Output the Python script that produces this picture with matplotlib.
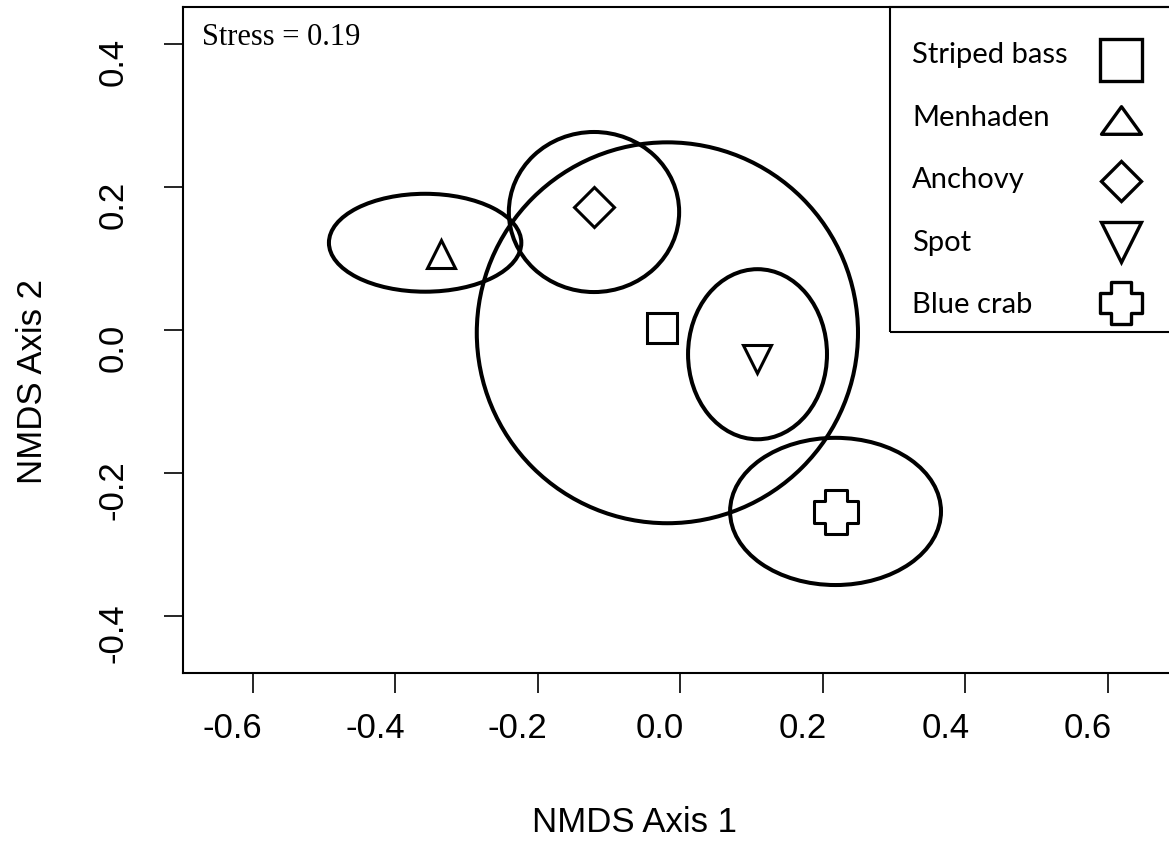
import numpy as np
import matplotlib.pyplot as plt
from matplotlib.patches import Ellipse, Rectangle
from matplotlib.path import Path
from matplotlib.markers import MarkerStyle
from matplotlib.transforms import ScaledTranslation

# species centroids and their confidence ellipses (NMDS space)
species = ['Striped bass', 'Menhaden', 'Anchovy', 'Spot', 'Blue crab']
cent_x = [-0.025, -0.336, -0.121, 0.108, 0.219]
cent_y = [0.003, 0.106, 0.172, -0.041, -0.255]
ell_x = [-0.018, -0.358, -0.121, 0.1085, 0.218]
ell_y = [-0.004, 0.122, 0.165, -0.034, -0.254]
ell_w = [0.535, 0.270, 0.239, 0.195, 0.296]
ell_h = [0.533, 0.137, 0.224, 0.238, 0.206]

xticks = [-0.6, -0.4, -0.2, 0.0, 0.2, 0.4, 0.6]
xtick_labels = ['-0.6', '-0.4', '-0.2', '0.0', '0.2', '0.4', '0.6']
yticks = [-0.4, -0.2, 0.0, 0.2, 0.4]
ytick_labels = ['-0.4', '-0.2', '0.0', '0.2', '0.4']
stress_text = 'Stress = 0.19'
xlab = 'NMDS Axis 1'
ylab = 'NMDS Axis 2'

# chunky plus outline used for blue crab
cross_verts = [(-1, -2), (1, -2), (1, -1), (2, -1), (2, 1), (1, 1), (1, 2),
               (-1, 2), (-1, 1), (-2, 1), (-2, -1), (-1, -1), (-1, -2)]
cross = MarkerStyle(Path(cross_verts, closed=True), joinstyle='miter')
wide_tri = MarkerStyle(Path([(-1, -0.69), (1, -0.69), (0, 0.69), (-1, -0.69)], closed=True),
                       joinstyle='miter')

mk_plot = ['s', '^', 'D', 'v', cross]
ms_plot = [21.6, 20.5, 20.3, 20.5, 31]
mk_leg = ['s', wide_tri, 'D', 'v', cross]
ms_leg = [30.5, 28.8, 20.5, 28.5, 30]

sans = 'Liberation Sans'
W, H = 1169, 844
fig = plt.figure(figsize=(W / 100, H / 100), dpi=100)
ax = fig.add_axes([183 / W, (H - 673) / H, (1175 - 183) / W, (673 - 6.5) / H])

ax.set_xlim(-0.6978, 0.6944)
ax.set_ylim(-0.4801, 0.4526)

for i in range(len(species)):
    e = Ellipse((ell_x[i], ell_y[i]), ell_w[i], ell_h[i], fill=False,
                edgecolor='black', linewidth=2.9)
    ax.add_patch(e)
    ax.plot(cent_x[i], cent_y[i], marker=mk_plot[i], markersize=ms_plot[i],
            markerfacecolor='white', markeredgecolor='black', markeredgewidth=2.2,
            linestyle='none')

for s in ax.spines.values():
    s.set_linewidth(1.5)

ax.set_xticks(xticks, xtick_labels, fontsize=25, family=sans)
ax.set_yticks(yticks, ytick_labels, fontsize=25, family=sans, rotation=90, va='center')
ax.tick_params(axis='x', length=14.4, width=1.2, pad=14)
ax.tick_params(axis='y', length=13.7, width=1.2, pad=24.5)

# tick labels in the original sit a bit off their tick marks
for lbl in ax.get_xticklabels():
    lbl.set_transform(lbl.get_transform() + ScaledTranslation(-0.20, 0, fig.dpi_scale_trans))
for lbl in ax.get_yticklabels():
    lbl.set_transform(lbl.get_transform() + ScaledTranslation(0, -0.175, fig.dpi_scale_trans))

# legend, drawn by hand: labels left aligned, symbols on the right
ax.add_patch(Rectangle((0.7127, 0.5116), 0.4, 0.4884, transform=ax.transAxes,
                       fill=False, edgecolor='black', linewidth=1.5, clip_on=False))
for i, name in enumerate(species):
    ty = (673 - 63 - 62.5 * i) / 666.5
    ax.text(0.7349, ty, name, transform=ax.transAxes, fontsize=21, family='Lato',
            ha='left', va='baseline')
    my = (673 - 59.5 - 60.75 * i) / 666.5
    ax.plot(0.9453, my, transform=ax.transAxes, marker=mk_leg[i], markersize=ms_leg[i],
            markerfacecolor='white', markeredgecolor='black', markeredgewidth=2.4,
            linestyle='none', clip_on=False)

fig.text(202 / W, (H - 45) / H, stress_text, family='Liberation Serif', fontsize=22,
         ha='left', va='baseline')
fig.text(634.5 / W, (H - 832) / H, xlab, family=sans, fontsize=25, ha='center', va='baseline')
fig.text(42 / W, (H - 381) / H, ylab, family=sans, fontsize=25, rotation=90,
         rotation_mode='anchor', ha='center', va='baseline')

fig.savefig('out.png', dpi=100)
